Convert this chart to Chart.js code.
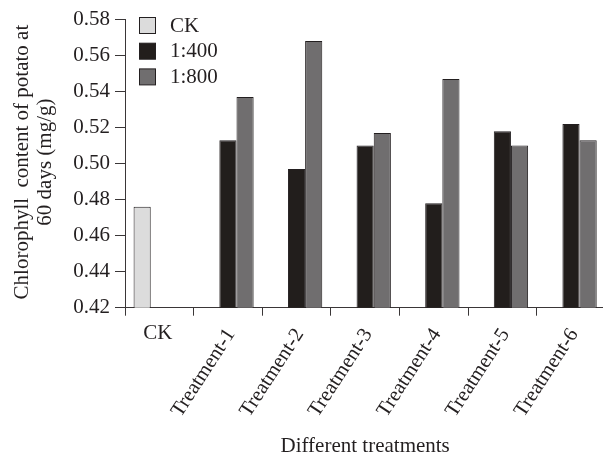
<!DOCTYPE html>
<html>
<head>
<meta charset="utf-8">
<script src="https://cdn.jsdelivr.net/npm/chart.js@4.4.1/dist/chart.umd.min.js"></script>
<style>
  html, body { margin: 0; padding: 0; background: #ffffff; overflow: hidden; width: 603px; height: 455px; }
  canvas { display: block; }
</style>
</head>
<body>
<canvas id="c" width="612" height="455"></canvas>
<script>
// ---- data ----
const categories = ['CK', 'Treatment-1', 'Treatment-2', 'Treatment-3', 'Treatment-4', 'Treatment-5', 'Treatment-6'];
const seriesNames = ['CK', '1:400', '1:800'];
const ckValues = [0.476, null, null, null, null, null, null];
const dil400Values = [null, 0.513, 0.497, 0.510, 0.478, 0.518, 0.522];
const dil800Values = [null, 0.537, 0.568, 0.517, 0.547, 0.510, 0.513];
const yMin = 0.42;
const yMax = 0.58;
const yStep = 0.02;
const xTitle = 'Different treatments';
const yTitleLines = ['Chlorophyll  content of potato at', '60 days (mg/g)'];

const INK = '#231f20';
const FONT = '"Liberation Serif", "Times New Roman", serif';

const legendPlugin = {
  id: 'insideLegend',
  afterDraw(chart) {
    const ctx = chart.ctx;
    const area = chart.chartArea;
    ctx.save();
    ctx.font = '21px ' + FONT;
    ctx.textBaseline = 'middle';
    ctx.textAlign = 'left';
    chart.data.datasets.forEach((ds, i) => {
      const bx = area.left + 14.5;
      const by = area.top - 2 + i * 25.7;
      ctx.fillStyle = ds.backgroundColor;
      ctx.fillRect(bx, by, 16, 16);
      ctx.strokeStyle = INK;
      ctx.lineWidth = 1;
      ctx.strokeRect(bx, by, 16, 16);
      ctx.fillStyle = INK;
      ctx.fillText(ds.label, area.left + 45, by + 8.5);
    });
    ctx.restore();
  }
};

const textPlugin = {
  id: 'axisTexts',
  afterDraw(chart) {
    const ctx = chart.ctx;
    const xs = chart.scales.x;
    const area = chart.chartArea;
    const bottom = area.bottom;
    ctx.save();
    ctx.fillStyle = INK;
    // category labels
    chart.data.labels.forEach((lab, i) => {
      const cx = xs.getPixelForValue(i);
      if (i === 0) {
        ctx.font = '21px ' + FONT;
        ctx.textAlign = 'center';
        ctx.textBaseline = 'middle';
        ctx.fillText(lab, cx - 1.5, bottom + 26);
      } else {
        ctx.save();
        ctx.font = '20.5px ' + FONT;
        ctx.translate(cx + 7.5, bottom + 26);
        ctx.rotate(-57 * Math.PI / 180);
        ctx.textAlign = 'right';
        ctx.textBaseline = 'alphabetic';
        ctx.fillText(lab, 0, 0);
        ctx.restore();
      }
    });
    // y axis title (two centred lines)
    ctx.font = '21px ' + FONT;
    ctx.textAlign = 'center';
    ctx.textBaseline = 'middle';
    const cy = (area.top + area.bottom) / 2 - 1.5;
    yTitleLines.forEach((line, j) => {
      ctx.save();
      ctx.translate(22 + j * 23, cy);
      ctx.rotate(-Math.PI / 2);
      ctx.fillText(line, 0, 0);
      ctx.restore();
    });
    ctx.restore();
  }
};

new Chart(document.getElementById('c'), {
  type: 'bar',
  data: {
    labels: categories,
    datasets: [
      { label: seriesNames[0], data: ckValues, backgroundColor: '#dcdcdc', borderColor: INK, borderWidth: 1 },
      { label: seriesNames[1], data: dil400Values, backgroundColor: '#221e1c', borderColor: INK, borderWidth: 1 },
      { label: seriesNames[2], data: dil800Values, backgroundColor: '#706e6f', borderColor: INK, borderWidth: 1 }
    ]
  },
  options: {
    responsive: false,
    animation: false,
    devicePixelRatio: 1,
    layout: { padding: { left: 0, right: 6.7, top: 19.5, bottom: 0 } },
    datasets: { bar: { categoryPercentage: 0.75, barPercentage: 1.0, skipNull: false } },
    plugins: {
      legend: { display: false },
      tooltip: { enabled: false }
    },
    scales: {
      x: {
        offset: true,
        border: { display: true, color: '#3a3637', width: 1 },
        grid: { display: true, offset: true, drawOnChartArea: false, drawTicks: true, tickLength: 8, color: '#3a3637' },
        ticks: { display: false },
        title: { display: true, text: xTitle, color: INK, font: { family: FONT, size: 21 }, padding: { top: 0, bottom: -4 } },
        afterFit(scale) { scale.height = 455 - 307.7; }
      },
      y: {
        min: yMin,
        max: yMax,
        border: { display: true, color: '#3a3637', width: 1 },
        grid: { display: true, drawOnChartArea: false, drawTicks: true, tickLength: 10, color: '#3a3637' },
        ticks: {
          stepSize: yStep,
          color: INK,
          padding: 5,
          font: { family: FONT, size: 21 },
          callback: (v) => Number(v).toFixed(2)
        },
        afterFit(scale) { scale.width = 125; }
      }
    }
  },
  plugins: [legendPlugin, textPlugin]
});
</script>
</body>
</html>
